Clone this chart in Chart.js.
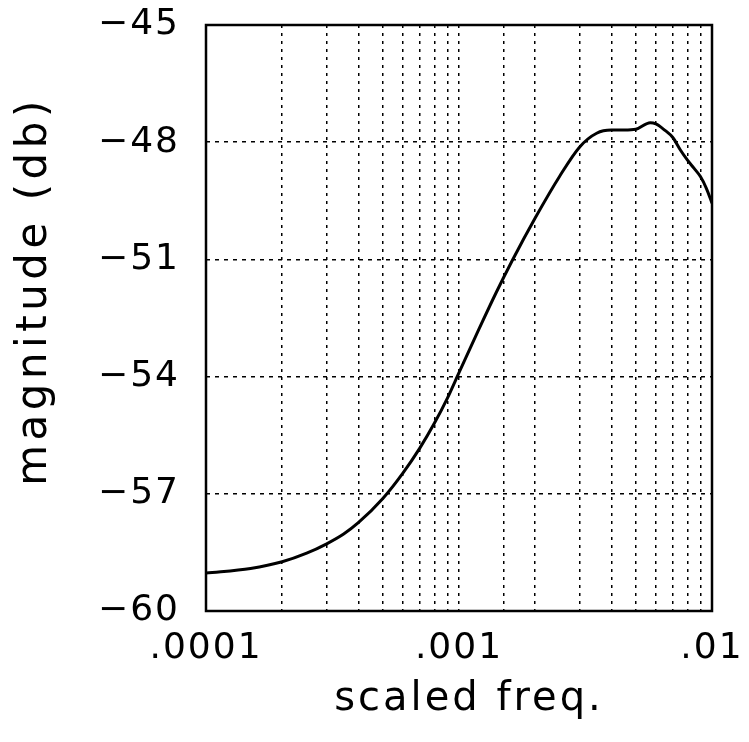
<!DOCTYPE html>
<html>
<head>
<meta charset="utf-8">
<script src="https://cdn.jsdelivr.net/npm/chart.js@4.4.1/dist/chart.umd.min.js"></script>
<style>
  html, body { margin: 0; padding: 0; background: #fff; }
  #wrap { width: 749px; height: 742px; }
</style>
</head>
<body>
<div id="wrap"><canvas id="c" width="749" height="742"></canvas></div>
<script>
// ---- data ----
const freqs = [1e-4, 1.5e-4, 2e-4, 2.5e-4, 3e-4, 3.5e-4, 4e-4, 5e-4, 6e-4, 7e-4, 8e-4, 9e-4,
               1e-3, 1.2e-3, 1.4e-3, 1.62e-3, 2e-3, 2.5e-3, 3e-3, 3.5e-3, 4e-3, 4.5e-3, 5e-3,
               5.7e-3, 6e-3, 6.5e-3, 7e-3, 7.5e-3, 8e-3, 8.5e-3, 9e-3, 9.5e-3, 1e-2];
const magnitudes = [-59.03, -58.91, -58.74, -58.52, -58.28, -58.03, -57.74, -57.12, -56.47, -55.83, -55.19, -54.55,
                    -53.90, -52.78, -51.86, -51.04, -49.94, -48.87, -48.12, -47.77, -47.69, -47.69, -47.67,
                    -47.50, -47.53, -47.69, -47.88, -48.20, -48.46, -48.67, -48.88, -49.18, -49.56];
const xTickValues = [1e-4, 1e-3, 1e-2];
const xTickLabels = ['.0001', '.001', '.01'];
const yTickValues = [-60, -57, -54, -51, -48, -45];
const xTitle = 'scaled freq.';
const yTitle = 'magnitude (db)';

const points = freqs.map((f, i) => ({ x: f, y: magnitudes[i] }));

// text spacing / title offsets (style only)
const textStyle = {
  x: { title: '3px', ticks: '2px', dx: 10, dy: 3 },
  y: { title: '4.5px', ticks: '2px', dx: 0, dy: -27 }
};

const textPatch = {
  id: 'textPatch',
  beforeDraw(chart) {
    Object.values(chart.scales).forEach(s => {
      if (s._patched) return;
      const cfg = textStyle[s.axis];
      if (!cfg) return;
      const proto = Object.getPrototypeOf(s);
      s.drawTitle = function () {
        const ctx = this.ctx;
        ctx.save();
        ctx.letterSpacing = cfg.title;
        ctx.translate(cfg.dx, cfg.dy);
        proto.drawTitle.apply(this, arguments);
        ctx.restore();
      };
      s.drawLabels = function () {
        const ctx = this.ctx;
        ctx.save();
        ctx.letterSpacing = cfg.ticks;
        proto.drawLabels.apply(this, arguments);
        ctx.restore();
      };
      s._patched = true;
    });
  }
};

const frame = {
  id: 'frame',
  afterDraw(chart) {
    const { ctx, chartArea: a } = chart;
    ctx.save();
    ctx.strokeStyle = '#000';
    ctx.lineWidth = 2.5;
    ctx.strokeRect(a.left, a.top, a.right - a.left, a.bottom - a.top);
    ctx.restore();
  }
};

const FONT = "'DejaVu Sans', sans-serif";
const noPad = (s) => { s.paddingTop = 0; s.paddingBottom = 0; s.paddingLeft = 0; s.paddingRight = 0; };

new Chart(document.getElementById('c'), {
  type: 'line',
  data: {
    datasets: [{
      data: points,
      borderColor: '#000',
      borderWidth: 3,
      pointRadius: 0,
      fill: false,
      cubicInterpolationMode: 'monotone'
    }]
  },
  options: {
    responsive: false,
    animation: false,
    devicePixelRatio: 1,
    layout: { padding: { top: 25, right: 37, left: 0, bottom: 0 } },
    plugins: { legend: { display: false }, tooltip: { enabled: false } },
    scales: {
      x: {
        type: 'logarithmic',
        min: 1e-4,
        max: 1e-2,
        border: { display: false, dash: [3, 5] },
        grid: { color: '#000', lineWidth: 1.5, drawTicks: false },
        ticks: {
          autoSkip: false,
          maxRotation: 0,
          padding: 16,
          color: '#000',
          font: { family: FONT, size: 36 },
          callback: (v) => {
            const i = xTickValues.findIndex(t => Math.abs(Math.log10(v) - Math.log10(t)) < 1e-6);
            return i >= 0 ? xTickLabels[i] : '';
          }
        },
        title: { display: true, text: xTitle, color: '#000', font: { family: FONT, size: 40 }, padding: { top: 0, bottom: 21 } },
        afterFit: (s) => { s.height = 131; noPad(s); }
      },
      y: {
        min: -60,
        max: -45,
        border: { display: false, dash: [4, 5] },
        grid: { color: '#000', lineWidth: 1.5, drawTicks: false },
        afterBuildTicks: (s) => { s.ticks = yTickValues.map(v => ({ value: v })); },
        ticks: {
          padding: 26,
          color: '#000',
          font: { family: FONT, size: 36 },
          callback: (v) => (v < 0 ? '\u2212' + Math.abs(v) : String(v))
        },
        title: { display: true, text: yTitle, color: '#000', font: { family: FONT, size: 42 }, padding: { top: 10, bottom: 0 } },
        afterFit: (s) => { s.width = 206; noPad(s); }
      }
    }
  },
  plugins: [textPatch, frame]
});
</script>
</body>
</html>
